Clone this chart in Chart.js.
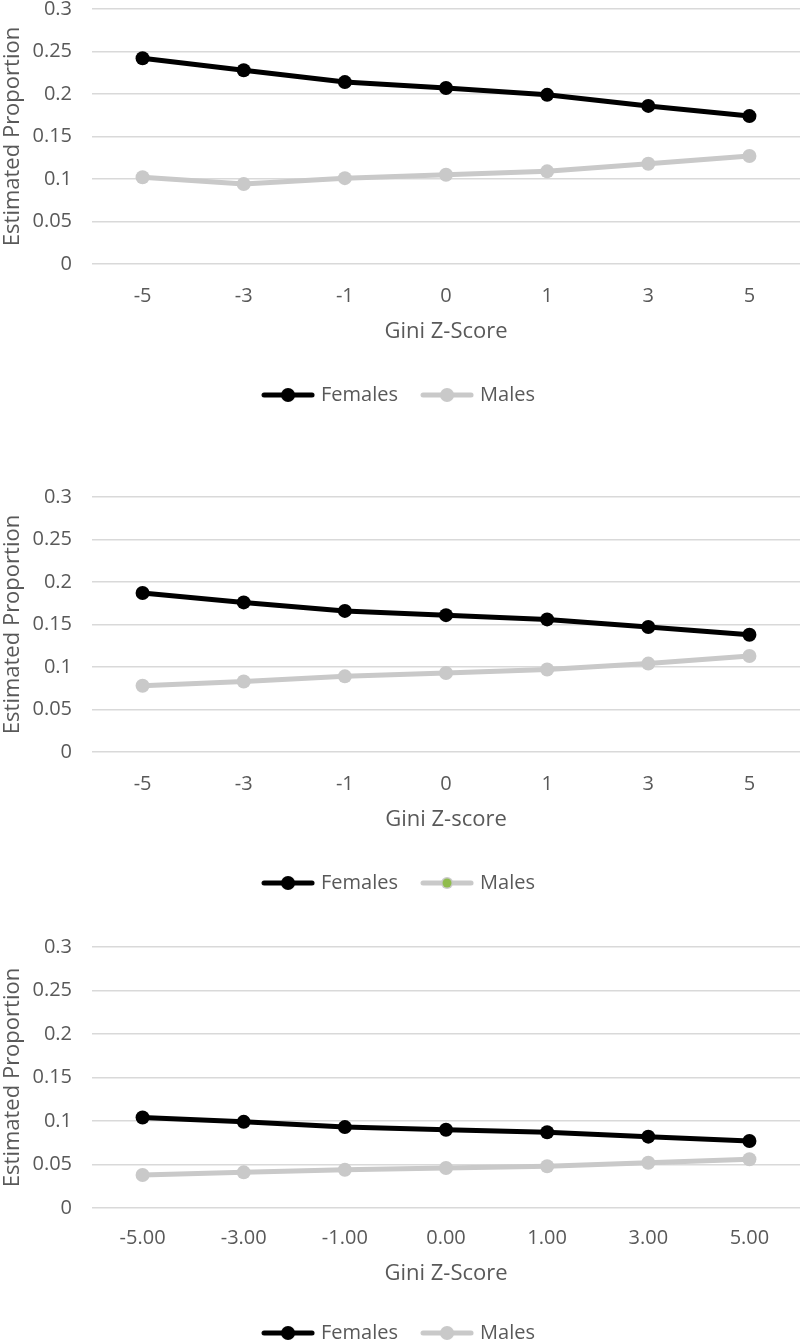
<!DOCTYPE html>
<html>
<head>
<meta charset="utf-8">
<script src="https://cdn.jsdelivr.net/npm/chart.js@4"></script>
<style>
  html, body { margin: 0; padding: 0; background: #fff; overflow: hidden; }
  body { width: 800px; height: 1341px; position: relative; }
  .box { position: absolute; left: 0; width: 800px; height: 454px; }
</style>
</head>
<body>
<div class="box" style="top:-23px"><canvas id="chart1"></canvas></div>
<div class="box" style="top:465px"><canvas id="chart2"></canvas></div>
<div class="box" style="top:915px"><canvas id="chart3"></canvas></div>
<script>
'use strict';

// data
var zScores = [-5, -3, -1, 0, 1, 3, 5];

var females1 = [0.242, 0.228, 0.214, 0.207, 0.199, 0.186, 0.174];
var males1   = [0.102, 0.094, 0.101, 0.105, 0.109, 0.118, 0.127];

var females2 = [0.187, 0.176, 0.166, 0.161, 0.156, 0.147, 0.138];
var males2   = [0.078, 0.083, 0.089, 0.093, 0.097, 0.104, 0.113];

var females3 = [0.104, 0.099, 0.093, 0.090, 0.087, 0.082, 0.077];
var males3   = [0.038, 0.041, 0.044, 0.046, 0.048, 0.052, 0.056];

var yMax = 0.3, yStep = 0.05;

var BLACK = '#000000',
    GREY = '#c9c9c9',
    GREEN = '#8fbc4c',
    TEXT = '#595959',
    GRID = '#d9d9d9';

Chart.defaults.font.family = "'Open Sans', sans-serif";
Chart.defaults.color = TEXT;

// line + dot swatch for the legend
function marker(lineColor, dotColor, dotR) {
    var c = document.createElement('canvas');
    c.width = 54;
    c.height = 16;
    var g = c.getContext('2d');
    g.strokeStyle = lineColor;
    g.lineWidth = 5;
    g.lineCap = 'round';
    g.beginPath();
    g.moveTo(3, 8);
    g.lineTo(51, 8);
    g.stroke();
    g.fillStyle = dotColor;
    g.beginPath();
    g.arc(27, 8, dotR, 0, Math.PI * 2);
    g.fill();
    return c;
}

function makeChart(id, females, males, xTitle, tickFmt, malesDot, xHeight, tickGap, titleGap) {
    var swatches = [marker(BLACK, BLACK, 7), malesDot];
    var ctx = document.getElementById(id).getContext('2d');
    return new Chart(ctx, {
        type: 'line',
        data: {
            labels: zScores.map(tickFmt),
            datasets: [
                {
                    label: 'Females',
                    data: females,
                    borderColor: BLACK,
                    backgroundColor: BLACK,
                    borderWidth: 5,
                    pointRadius: 7,
                    pointBorderWidth: 0
                },
                {
                    label: 'Males',
                    data: males,
                    borderColor: GREY,
                    backgroundColor: GREY,
                    borderWidth: 5,
                    pointRadius: 7,
                    pointBorderWidth: 0
                }
            ]
        },
        options: {
            responsive: true,
            maintainAspectRatio: false,
            animation: false,
            devicePixelRatio: 1,
            layout: { autoPadding: false, padding: { top: 0, right: 0, bottom: 16, left: 0 } },
            plugins: {
                tooltip: { enabled: false },
                legend: {
                    position: 'bottom',
                    labels: {
                        usePointStyle: true,
                        pointStyleWidth: 46,
                        padding: 26,
                        font: { size: 20 },
                        color: TEXT,
                        generateLabels: function (chart) {
                            return chart.data.datasets.map(function (ds, i) {
                                return {
                                    text: ds.label,
                                    pointStyle: swatches[i],
                                    fontColor: TEXT,
                                    fillStyle: ds.backgroundColor,
                                    strokeStyle: ds.borderColor,
                                    lineWidth: 0,
                                    hidden: false,
                                    datasetIndex: i
                                };
                            });
                        }
                    }
                }
            },
            scales: {
                x: {
                    offset: true,
                    afterFit: function (s) { s.height = xHeight; },
                    grid: { display: false },
                    border: { display: false },
                    ticks: { padding: tickGap, font: { size: 20 }, color: TEXT, maxRotation: 0 },
                    title: {
                        display: true,
                        text: xTitle,
                        font: { size: 22 },
                        color: TEXT,
                        padding: { top: 8, bottom: titleGap }
                    }
                },
                y: {
                    min: 0,
                    max: yMax,
                    afterFit: function (s) { s.width = 92; },
                    grid: { color: GRID, lineWidth: 1.5, drawTicks: false },
                    border: { display: false },
                    ticks: {
                        stepSize: yStep,
                        padding: 20,
                        font: { size: 20 },
                        color: TEXT,
                        callback: function (v) { return String(+v.toFixed(2)); }
                    },
                    title: {
                        display: true,
                        text: 'Estimated Proportion',
                        font: { size: 22 },
                        color: TEXT,
                        padding: 0
                    }
                }
            }
        }
    });
}

var plain = function (v) { return String(v); };
var twoDp = function (v) { return v.toFixed(2); };

makeChart('chart1', females1, males1, 'Gini Z-Score', plain,
    marker(GREY, GREY, 7), 95, 12, 14);

// second chart's legend has a green dot on the males swatch
var greenDot = marker(GREY, GREY, 6);
(function () {
    var g = greenDot.getContext('2d');
    g.fillStyle = GREEN;
    g.beginPath();
    g.arc(27, 8, 4.5, 0, Math.PI * 2);
    g.fill();
})();

makeChart('chart2', females2, males2, 'Gini Z-score', plain,
    greenDot, 95, 12, 14);

makeChart('chart3', females3, males3, 'Gini Z-Score', twoDp,
    marker(GREY, GREY, 7), 89, 10, 10);
</script>
</body>
</html>
